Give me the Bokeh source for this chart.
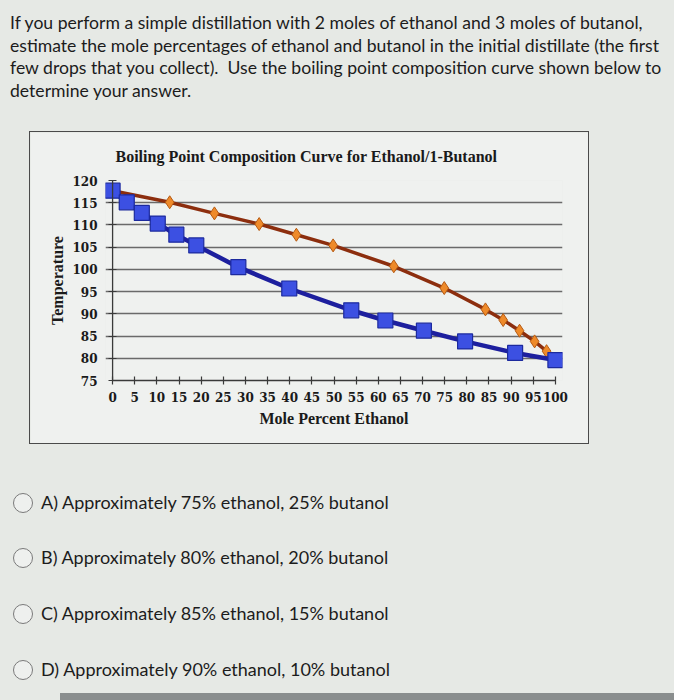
from bokeh.plotting import figure
from bokeh.models import Div, FixedTicker, Range1d, Span
from bokeh.layouts import column
from bokeh.embed import file_html
from bokeh.resources import INLINE

# ---- text content ----
question_lines = [
    "If you perform a simple distillation with 2 moles of ethanol and 3 moles of butanol,",
    "estimate the mole percentages of ethanol and butanol in the initial distillate (the first",
    "few drops that you collect).&nbsp; Use the boiling point composition curve shown below to",
    "determine your answer.",
]
answers = [
    "A) Approximately 75% ethanol, 25% butanol",
    "B) Approximately 80% ethanol, 20% butanol",
    "C) Approximately 85% ethanol, 15% butanol",
    "D) Approximately 90% ethanol, 10% butanol",
]
chart_title = "Boiling Point Composition Curve for Ethanol/1-Butanol"
x_label = "Mole Percent Ethanol"
y_label = "Temperature"

# ---- data ----
x_ticks = list(range(0, 101, 5))
y_ticks = list(range(75, 121, 5))

liquid_x = [0, 3.2, 6.6, 10.2, 14.4, 18.9, 28.4, 39.9, 53.9, 61.6, 70.3, 79.6, 90.9, 100]
liquid_y = [117.7, 115.1, 112.7, 110.3, 107.8, 105.4, 100.5, 95.7, 90.8, 88.5, 86.2, 83.8, 81.2, 79.6]

vapor_x = [0, 12.9, 23.0, 33.1, 41.5, 49.8, 63.5, 74.9, 84.2, 88.2, 91.9, 95.3, 98.0, 100]
vapor_y = [117.7, 115.1, 112.6, 110.2, 107.8, 105.4, 100.7, 95.8, 91.0, 88.6, 86.2, 83.8, 81.6, 79.6]

PAGE_BG = "#e6e9e5"
CHART_BG = "#eff1ef"
AXIS_COLOR = "#3a3a3a"

# ---- question ----
q_html = (
    '<div style="font-family:Lato; font-size:17.6px; color:#1c1c1c; line-height:22.5px; '
    'padding:12px 0 0 10px; white-space:nowrap;">' + "<br>".join(question_lines) + "</div>"
)
q_div = Div(text=q_html, width=674, height=131, margin=0)

# ---- chart ----
p = figure(
    width=560, height=313, output_backend="svg", toolbar_location=None,
    x_range=Range1d(-1.6, 101.6), y_range=Range1d(75, 120),
    min_border_left=75, min_border_right=28, min_border_top=48, min_border_bottom=65,
    margin=(0, 0, 0, 29),
    title=chart_title,
    styles={"border": "1.5px solid #4a4a4a", "box-sizing": "border-box"},
)
p.background_fill_color = CHART_BG
p.border_fill_color = CHART_BG
p.outline_line_color = None

p.title.text_font = "Liberation Serif"
p.title.text_font_style = "bold"
p.title.text_font_size = "16px"
p.title.text_color = "#1a1a1a"
p.title.align = "left"
p.title.offset = 10
p.title.vertical_align = "top"
p.title.standoff = 27

p.xgrid.visible = False
p.ygrid.grid_line_color = "#6a6a6a"
p.ygrid.grid_line_width = 1.3
p.ygrid.bounds = (x_ticks[0], x_ticks[-1])

for ax in (p.xaxis[0], p.yaxis[0]):
    ax.axis_line_color = AXIS_COLOR
    ax.axis_line_width = 1.3
    ax.major_tick_line_color = AXIS_COLOR
    ax.major_tick_line_width = 1.2
    ax.major_tick_in = 4
    ax.major_tick_out = 4
    ax.minor_tick_line_color = None
    ax.major_label_text_font = "DejaVu Serif"
    ax.major_label_text_font_style = "bold"
    ax.major_label_text_font_size = "12px"
    ax.major_label_text_color = "#1a1a1a"
    ax.axis_label_text_font = "Liberation Serif"
    ax.axis_label_text_font_style = "bold"
    ax.axis_label_text_font_size = "16px"
    ax.axis_label_text_color = "#1a1a1a"

p.xaxis.ticker = FixedTicker(ticks=x_ticks)
p.yaxis.ticker = FixedTicker(ticks=y_ticks)
p.xaxis.bounds = (x_ticks[0], x_ticks[-1])
p.xaxis.axis_label = x_label
p.yaxis.axis_label = y_label
p.xaxis.major_label_standoff = 7
# y axis sits at the frame edge; its line is drawn by a span at x = 0
p.yaxis.axis_line_color = None
p.yaxis.major_tick_out = -3
p.yaxis.major_tick_in = 11
p.yaxis.major_label_standoff = 8
p.xaxis.axis_label_standoff = 5
p.yaxis.axis_label_standoff = 3

p.add_layout(Span(location=x_ticks[0], dimension="height", line_color=AXIS_COLOR, line_width=1.3))

# vapor curve (orange)
p.line(vapor_x, vapor_y, line_color="#8c2e0e", line_width=3.5)
p.scatter(vapor_x, vapor_y, marker="diamond", size=13, fill_color="#ee8a2a",
          line_color="#b65a12", line_width=1)
# liquid curve (blue)
p.line(liquid_x, liquid_y, line_color="#1d1f9e", line_width=4.5)
p.scatter(liquid_x, liquid_y, marker="square", size=15, fill_color="#3c50e2",
          line_color="#1c2a9e", line_width=1.2)

# ---- answers ----
rows = []
tops = [47, 102, 158, 214]
for t, a in zip(tops, answers):
    rows.append(
        f'<div style="position:absolute; left:0; top:{t}px; height:24px; display:flex; align-items:center;">'
        '<span style="display:inline-block; width:20px; height:20px; border:1.5px solid #7a7a7a; '
        'border-radius:50%; margin-left:13px; margin-right:8px; background:#eef0ee;"></span>'
        f'<span style="font-family:Lato; font-size:18px; color:#1c1c1c; white-space:nowrap;">{a}</span></div>'
    )
rows.append('<div style="position:absolute; left:60px; top:249px; width:614px; height:7px; background:#8a8e8e;"></div>')
a_html = '<div style="position:relative; width:674px; height:256px;">' + "".join(rows) + "</div>"
a_div = Div(text=a_html, width=674, height=256, margin=0)

layout = column(q_div, p, a_div, width=674, height=700, spacing=0,
                styles={"background-color": PAGE_BG})

open("out.html", "w").write(file_html(layout, INLINE))
